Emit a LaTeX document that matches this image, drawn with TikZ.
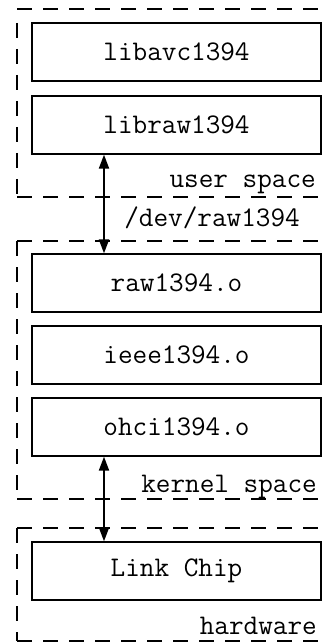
\documentclass[tikz,border=0pt]{standalone}
\usetikzlibrary{arrows.meta}
\begin{document}
\begin{tikzpicture}[x=1pt, y=-1pt]
    \useasboundingbox (0,0) rectangle (328,644);
    \begin{scope}
        \tikzstyle{region}=[draw, line width=1.4pt, dash pattern=on 15pt off 11pt]
        \draw[region] (17,9) -- (328,9);
        \draw[region] (17,23) -- (17,197);
        \draw[region] (17,197) -- (328,197);
        \draw[region] (17,241) -- (328,241);
        \draw[region] (17,241) -- (17,499);
        \draw[region] (17,499) -- (328,499);
        \draw[region] (17,528) -- (328,528);
        \draw[region] (17,528) -- (17,641);
        \draw[region] (17,641) -- (328,641);
    \end{scope}
    \begin{scope}
        \tikzstyle{every node}=[font=\ttfamily\fontsize{28.4pt}{34pt}\selectfont, text=black, anchor=base east, inner sep=0pt]
        \node (user) at (316,188) {user space};
        \node (dev) at (300,226) {/dev/raw1394};
        \node (kernel) at (317,492) {kernel space};
        \node (hw) at (317,634) {hardware};
    \end{scope}
    \begin{scope}
        \tikzstyle{every node}=[fill=white, draw=black, line width=1.3pt, minimum width=289pt, minimum height=58pt, text=black, font=\ttfamily\fontsize{28.4pt}{34pt}\selectfont]
        \node (0) at (176.5,52) {libavc1394};
        \node (1) at (176.5,125) {libraw1394};
        \node (2) at (176.5,283) {raw1394.o};
        \node (3) at (176.5,355) {ieee1394.o};
        \node (4) at (176.5,427) {ohci1394.o};
        \node (5) at (176.5,571) {Link Chip};
    \end{scope}
    \begin{scope}
        \tikzstyle{link}=[draw, line width=2pt, {Triangle[length=14pt, width=10pt]}-{Triangle[length=14pt, width=10pt]}]
        \draw[link] ([xshift=-72.5pt]1.south) -- ([xshift=-72.5pt]2.north);
        \draw[link] ([xshift=-72.5pt]4.south) -- ([xshift=-72.5pt]5.north);
    \end{scope}
\end{tikzpicture}
\end{document}
